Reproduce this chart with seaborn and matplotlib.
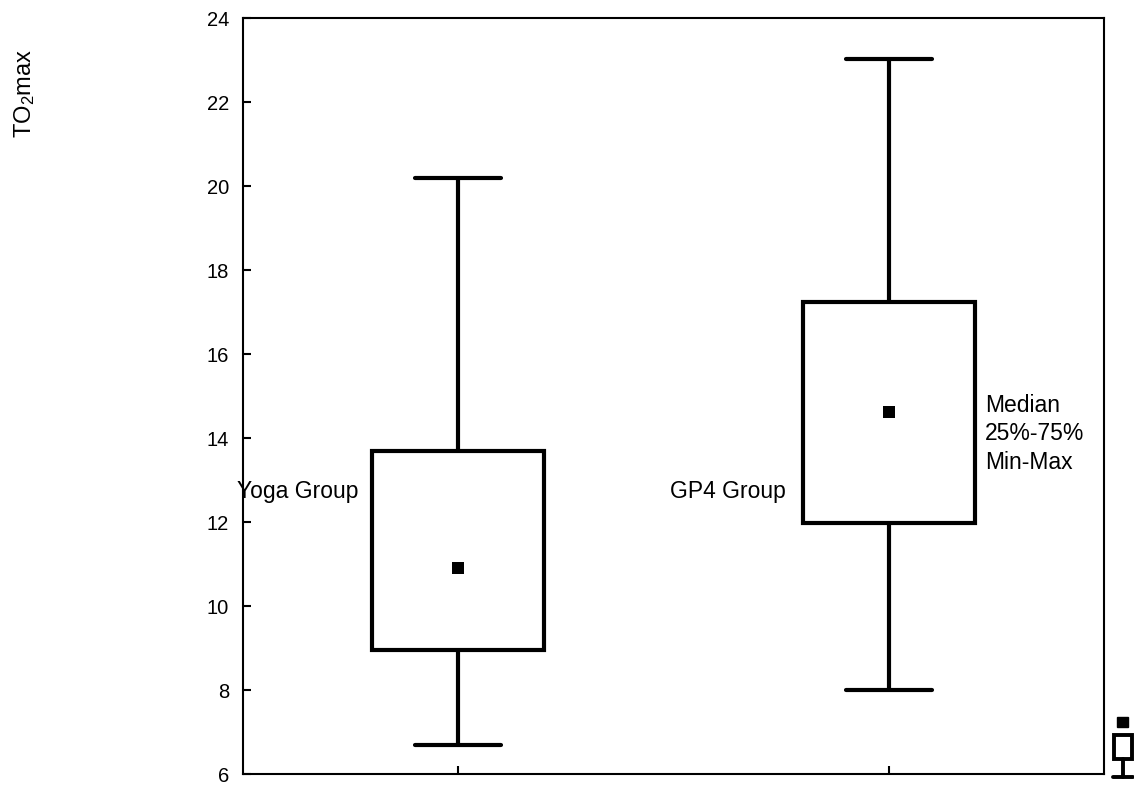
import matplotlib
matplotlib.use("Agg")
import matplotlib.pyplot as plt
from matplotlib.patches import Rectangle
from matplotlib.lines import Line2D
import seaborn as sns
import pandas as pd

# five-number summaries (min, q1, median, q3, max)
groups = ["Yoga Group", "GP4 Group"]
mins = [6.7, 8.0]
q1s = [8.95, 11.98]
medians = [10.9, 14.62]
q3s = [13.7, 17.25]
maxs = [20.2, 23.02]
yticks = [6, 8, 10, 12, 14, 16, 18, 20, 22, 24]

sns.set_style("white")
plt.rcParams["font.family"] = ["Liberation Sans", "DejaVu Sans"]
plt.rcParams["mathtext.default"] = "regular"
plt.rcParams["text.color"] = "black"

# 5 values per group -> linear percentiles give exactly min/q1/median/q3/max
rows = []
for g, a, b, c, d, e in zip(groups, mins, q1s, medians, q3s, maxs):
    for v in (a, b, c, d, e):
        rows.append({"group": g, "value": v})
df = pd.DataFrame(rows)
med_df = pd.DataFrame({"group": groups, "value": medians})

W, H = 1134, 789
fig = plt.figure(figsize=(W / 100, H / 100), dpi=100)
ax = fig.add_axes([243 / W, 1 - 774 / H, (1104 - 243) / W, (774 - 18) / H])

sns.boxplot(data=df, x="group", y="value", order=groups, whis=(0, 100),
            width=0.4, color="white", linecolor="black", linewidth=3,
            medianprops={"visible": False}, ax=ax)
sns.stripplot(data=med_df, x="group", y="value", order=groups, jitter=False,
              marker="s", size=8, color="black", ax=ax)

ax.set_xlim(-0.5, 1.5)
ax.set_ylim(6, 24)
ax.set_yticks(yticks)
ax.set_xticks([0, 1])
ax.set_xticklabels([])
ax.set_xlabel("")
ax.set_ylabel("")
ax.tick_params(axis="both", direction="in", length=6, width=1.5, colors="black",
               labelsize=14.5, left=True, bottom=True, pad=10)
for s in ax.spines.values():
    s.set_visible(True)
    s.set_color("black")
    s.set_linewidth(1.5)

# category names drawn inside the plot, as in the original
ax.text(-0.007, 0.365, groups[0], transform=ax.transAxes, fontsize=16.5,
        ha="left", va="baseline", color="black")
ax.text(0.496, 0.365, groups[1], transform=ax.transAxes, fontsize=16.5,
        ha="left", va="baseline", color="black")
ax.text(0.862, 0.450, "Median\n25%-75%\nMin-Max", transform=ax.transAxes,
        fontsize=16.5, ha="left", va="center", linespacing=1.3, color="black")

fig.text(25 / W, 1 - 93 / H, r"TO$_2$max", rotation=90, fontsize=17,
         ha="center", va="center", color="black")

# small legend glyph in the bottom-right corner
def fx(x):
    return x / W

def fy(y):
    return 1 - y / H

fig.patches.append(Rectangle((fx(1117), fy(727)), fx(11), 10 / H,
                             transform=fig.transFigure, facecolor="black",
                             edgecolor="black"))
fig.patches.append(Rectangle((fx(1114), fy(759)), fx(18), 24 / H,
                             transform=fig.transFigure, facecolor="white",
                             edgecolor="black", linewidth=2.8))
fig.lines.append(Line2D([fx(1123), fx(1123)], [fy(759), fy(777)],
                        transform=fig.transFigure, color="black", linewidth=2.8))
fig.lines.append(Line2D([fx(1113), fx(1133)], [fy(777), fy(777)],
                        transform=fig.transFigure, color="black", linewidth=2.8))

fig.savefig("out.png", dpi=100)
